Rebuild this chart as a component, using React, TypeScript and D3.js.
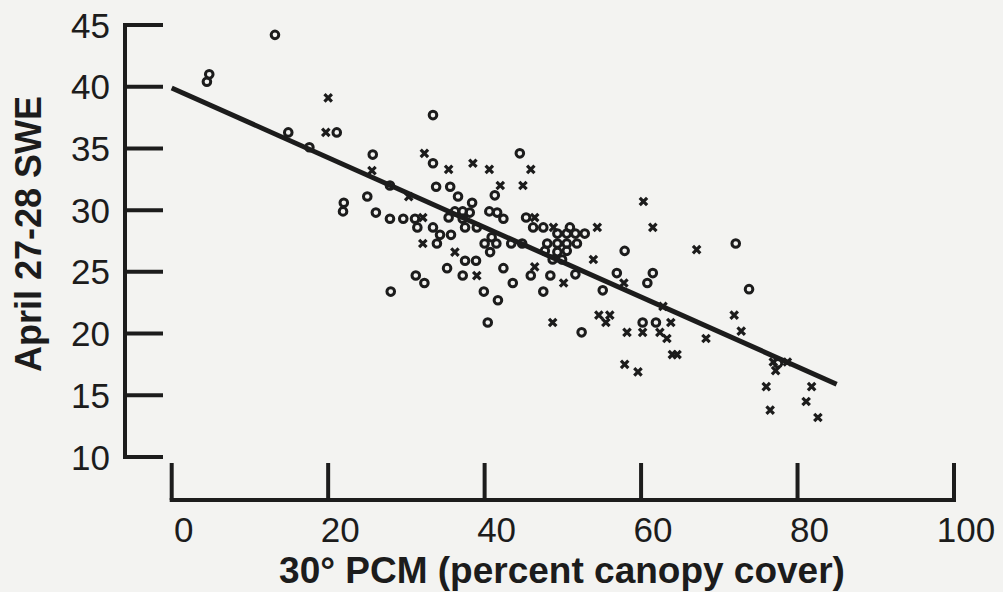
import React from 'react';
import * as d3 from 'd3';

const W = 1003;
const H = 592;

const xTicks = [0, 20, 40, 60, 80, 100];
const yTicks = [10, 15, 20, 25, 30, 35, 40, 45];
const xTitle = '30° PCM (percent canopy cover)';
const yTitle = 'April 27-28 SWE';

// open-circle observations
const circleX = [13.2, 4.8, 4.5, 14.9, 21.1, 17.6, 33.4, 25.7, 33.4, 44.5,
  27.9, 33.8, 35.6, 36.6, 41.3, 25.0, 22.0, 21.9, 26.1, 27.9,
  29.6, 31.1, 31.4, 35.4, 36.2, 37.2, 38.1, 38.4, 40.6, 41.6,
  42.4, 37.2, 37.5, 39.0, 33.4, 34.3, 35.7, 33.9, 37.5, 38.9,
  40.0, 40.9, 41.5, 40.7, 43.4, 44.8, 45.3, 46.2, 47.5, 50.9,
  49.3, 50.5, 51.6, 52.8, 48.0, 49.3, 50.5, 51.8, 47.7, 49.3,
  50.5, 49.9, 48.7, 35.2, 31.2, 32.3, 37.2, 42.4, 45.9, 48.4,
  51.6, 28.0, 39.9, 43.6, 41.7, 47.5, 40.4, 52.4, 57.9, 72.1,
  56.9, 61.5, 60.8, 55.1, 73.8, 60.2, 61.9, 77.5];
const circleY = [44.2, 41.0, 40.4, 36.3, 36.3, 35.1, 37.7, 34.5, 33.8, 34.6,
  32.0, 31.9, 31.9, 31.1, 31.2, 31.1, 30.6, 29.9, 29.8, 29.3,
  29.3, 29.3, 28.6, 29.4, 29.9, 29.9, 29.8, 30.6, 29.9, 29.8,
  29.3, 29.3, 28.6, 28.6, 28.6, 28.0, 28.0, 27.3, 25.9, 25.9,
  27.3, 27.8, 27.3, 26.6, 27.3, 27.3, 29.4, 28.6, 28.6, 28.6,
  28.1, 28.1, 28.1, 28.1, 27.3, 27.3, 27.3, 27.3, 26.7, 26.6,
  26.7, 26.0, 26.0, 25.3, 24.7, 24.1, 24.7, 25.3, 24.7, 24.7,
  24.8, 23.4, 23.4, 24.1, 22.7, 23.4, 20.9, 20.1, 26.7, 27.3,
  24.9, 24.9, 24.1, 23.5, 23.6, 20.9, 20.9, 17.6];

// cross observations
const crossX = [20.0, 19.7, 32.3, 35.4, 38.5, 40.6, 45.9, 25.6, 42.0, 44.9,
  30.3, 32.1, 32.1, 36.2, 39.0, 46.4, 48.8, 46.4, 50.1, 48.7,
  60.3, 54.4, 61.5, 67.1, 53.9, 57.8, 62.8, 54.6, 56.0, 55.5,
  58.2, 60.2, 62.4, 63.8, 63.3, 68.3, 71.9, 72.8, 64.0, 64.6,
  57.9, 59.6, 76.9, 77.2, 78.7, 76.0, 81.8, 81.1, 76.5, 82.6];
const crossY = [39.1, 36.3, 34.6, 33.3, 33.8, 33.3, 33.3, 33.2, 32.0, 32.0,
  31.1, 29.4, 27.3, 26.6, 24.7, 29.4, 28.6, 25.4, 24.1, 20.9,
  30.7, 28.6, 28.6, 26.8, 26.0, 24.1, 22.2, 21.5, 21.5, 20.9,
  20.1, 20.1, 20.1, 20.9, 19.6, 19.6, 21.5, 20.2, 18.3, 18.3,
  17.5, 16.9, 17.7, 17.0, 17.7, 15.7, 15.7, 14.5, 13.8, 13.2];

// regression line end points
const fitX = [0, 85];
const fitY = [39.9, 15.9];

const INK = '#1c1c1c';
const FONT = '"Liberation Sans", Arial, Helvetica, sans-serif';

export default function App() {
  const x = d3.scaleLinear().domain([0, 100]).range([171.7, 954]);
  const y = d3.scaleLinear().domain([10, 45]).range([457, 25]);

  const yAxisX = 125;
  const yTickLen = 38;
  const xAxisY = 500;
  const xTickLen = 37;

  const line = d3.line<number>()
    .x((_, i) => x(fitX[i]))
    .y((_, i) => y(fitY[i]));
  const fitPath = line(fitX) || '';

  const r = 3.8;
  const c = 3.7;

  return (
    <svg width={W} height={H} style={{ position: 'absolute', left: 0, top: 0, display: 'block' }}>
      <rect x={0} y={0} width={W} height={H} fill="#f3f3f1" />

      {/* Y axis */}
      <line x1={yAxisX} x2={yAxisX} y1={y(45) - 2} y2={y(10) + 2} stroke={INK} strokeWidth={4} />
      {yTicks.map((t) => (
        <g key={'yt' + t}>
          <line x1={yAxisX} x2={yAxisX + yTickLen} y1={y(t)} y2={y(t)} stroke={INK} strokeWidth={4} />
          <text x={110} y={y(t)} dy="0.36em" textAnchor="end" fontFamily={FONT} fontSize={35} fill={INK}>{t}</text>
        </g>
      ))}

      {/* X axis */}
      <line x1={x(0) - 2} x2={x(100) + 2} y1={xAxisY} y2={xAxisY} stroke={INK} strokeWidth={4} />
      {xTicks.map((t) => (
        <g key={'xt' + t}>
          <line x1={x(t)} x2={x(t)} y1={xAxisY} y2={xAxisY - xTickLen} stroke={INK} strokeWidth={4} />
          <text x={x(t) + 12} y={542} textAnchor="middle" fontFamily={FONT} fontSize={35} fill={INK}>{t}</text>
        </g>
      ))}

      {/* regression line */}
      <path d={fitPath} fill="none" stroke={INK} strokeWidth={5} />

      {/* circles */}
      {circleX.map((v, i) => (
        <circle key={'c' + i} cx={x(v)} cy={y(circleY[i])} r={r} fill="none" stroke={INK} strokeWidth={3} />
      ))}

      {/* crosses */}
      {crossX.map((v, i) => {
        const cx = x(v);
        const cy = y(crossY[i]);
        return (
          <path key={'x' + i}
            d={`M${cx - c},${cy - c}L${cx + c},${cy + c}M${cx - c},${cy + c}L${cx + c},${cy - c}`}
            stroke={INK} strokeWidth={3.2} fill="none" />
        );
      })}

      {/* axis titles */}
      <text x={562} y={583} textAnchor="middle" fontFamily={FONT} fontWeight="bold" fontSize={37} fill={INK}>{xTitle}</text>
      <text transform="translate(41,234) rotate(-90)" textAnchor="middle" fontFamily={FONT} fontWeight="bold" fontSize={36} fill={INK}>{yTitle}</text>
    </svg>
  );
}
